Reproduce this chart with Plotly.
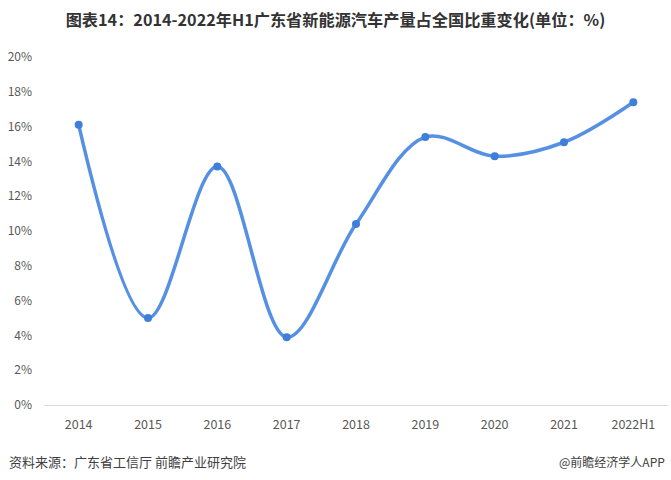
import plotly.graph_objects as go

years = ["2014", "2015", "2016", "2017", "2018", "2019", "2020", "2021", "2022H1"]
share = [16.1, 5.0, 13.7, 3.9, 10.4, 15.4, 14.3, 15.1, 17.4]
y_ticks = [0, 2, 4, 6, 8, 10, 12, 14, 16, 18, 20]
y_tick_text = [f"{v}%" for v in y_ticks]

fig = go.Figure()
fig.add_trace(go.Scatter(
    x=years, y=share, mode="lines+markers",
    line=dict(color="#5590e3", width=3.5, shape="spline", smoothing=1.0),
    marker=dict(color="#3f7edb", size=8),
    hoverinfo="x+y",
))

fig.update_layout(
    width=671, height=480,
    margin=dict(l=44, r=3, t=57, b=75),
    paper_bgcolor="white", plot_bgcolor="white",
    showlegend=False,
    font=dict(family="Noto Sans CJK SC, Noto Sans, sans-serif", color="#595959", size=12),
    title=dict(
        text="<b>图表14：2014-2022年H1广东省新能源汽车产量占全国比重变化(单位：%)</b>",
        x=0.5, xanchor="center", y=0.958, yanchor="middle",
        font=dict(size=16.2, color="#333333", family="Noto Sans CJK SC, sans-serif"),
    ),
    xaxis=dict(
        type="category", range=[-0.5, 8.5],
        showgrid=False, showline=True, linecolor="#d9d9d9", linewidth=1,
        ticks="", tickfont=dict(size=12.5, color="#595959"),
        ticklabelstandoff=8,
    ),
    yaxis=dict(
        range=[0, 20], tickvals=y_ticks, ticktext=y_tick_text,
        showgrid=False, zeroline=False, showline=False,
        tickfont=dict(size=12, color="#595959"), ticks="",
        ticklabelstandoff=11,
    ),
)

fig.add_annotation(
    text="资料来源：广东省工信厅 前瞻产业研究院", xref="paper", yref="paper",
    x=-0.0595, y=-0.161, xanchor="left", yanchor="middle", showarrow=False,
    font=dict(size=13, color="#404040"),
)
fig.add_annotation(
    text="@前瞻经济学人APP", xref="paper", yref="paper",
    x=0.998, y=-0.161, xanchor="right", yanchor="middle", showarrow=False,
    font=dict(size=12, color="#404040"),
)

fig.write_html(
    "out.html",
    config={"displayModeBar": False},
    post_script="document.body.style.margin='0';document.body.style.overflow='hidden';",
)
